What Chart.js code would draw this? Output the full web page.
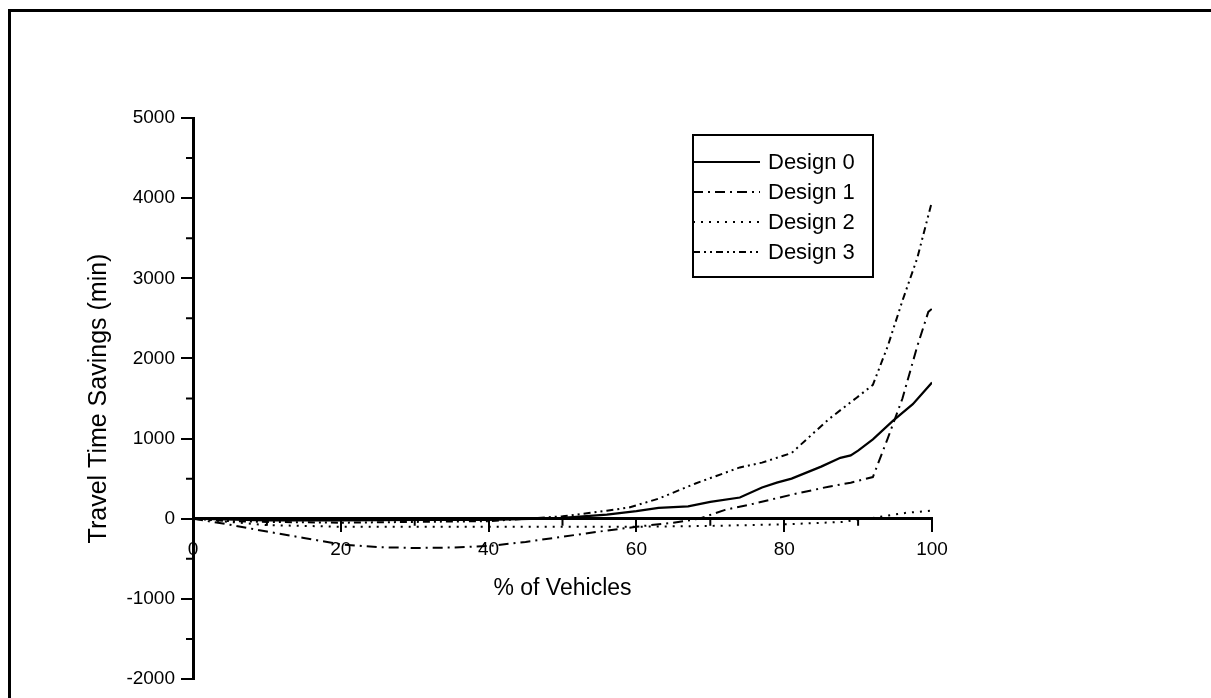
<!DOCTYPE html>
<html>
<head>
<meta charset="utf-8">
<script src="https://cdn.jsdelivr.net/npm/chart.js@4.4.0/dist/chart.umd.min.js"></script>
<style>
  html, body { margin: 0; padding: 0; background: #fff; overflow: hidden; }
  #wrap { position: relative; width: 1211px; height: 698px; }
  #frame { position: absolute; left: 8px; top: 9px; width: 1300px; height: 800px; border: 3px solid #000; box-sizing: border-box; }
  #graphCanvas { position: absolute; left: 0; top: 0; }
</style>
</head>
<body>
<div id="wrap">
  <div id="frame"></div>
  <canvas id="graphCanvas" width="1211" height="698"></canvas>
</div>
<script>
// ================================
// Travel time savings vs % of vehicles
// ================================

const seriesNames = ['Design 0', 'Design 1', 'Design 2', 'Design 3'];

// Design 0 (solid)
const design0X = [0, 10, 20, 30, 40, 47, 50, 56, 60, 63, 67, 70, 74, 77, 79, 81, 85, 87.6, 89, 90, 92, 94.7, 97.4, 100];
const design0Y = [0, -20, -20, -15, -15, 0, 10, 50, 95, 135, 155, 210, 265, 390, 450, 500, 650, 760, 790, 850, 990, 1220, 1430, 1700];

// Design 1 (dash-dot)
const design1X = [0, 5, 10, 15, 20, 25, 30, 35, 40, 45, 50, 55, 60, 65, 68.5, 72, 76, 81, 86, 89, 92, 94, 96, 98, 99.5, 100];
const design1Y = [0, -75, -160, -240, -320, -355, -365, -360, -340, -290, -225, -160, -100, -50, 0, 110, 190, 300, 400, 450, 520, 1000, 1500, 2150, 2580, 2620];

// Design 2 (dotted)
const design2X = [0, 5, 10, 20, 40, 60, 70, 80, 88, 90, 92, 96.6, 100];
const design2Y = [0, -40, -80, -100, -100, -100, -90, -70, -40, -10, 10, 75, 100];

// Design 3 (dash-dot-dot)
const design3X = [0, 5, 10, 20, 30, 40, 45, 50, 56, 59, 63, 68, 74, 77, 81, 86, 89.8, 92, 94, 96, 98, 100];
const design3Y = [0, -30, -40, -50, -40, -30, 0, 30, 100, 140, 250, 440, 640, 700, 820, 1240, 1510, 1670, 2150, 2720, 3250, 3960];

// Axis ticks
const xMajorTicks = [0, 20, 40, 60, 80, 100];
const xMinorTicks = [10, 30, 50, 70, 90];
const yMajorTicks = [-2000, -1000, 0, 1000, 2000, 3000, 4000, 5000];
const yMinorTicks = [-1500, -500, 500, 1500, 2500, 3500, 4500];

const FONT = "'Liberation Sans', Arial, Helvetica, sans-serif";

function toPoints(xs, ys) {
  return xs.map((x, i) => ({ x, y: ys[i] }));
}

const lineStyles = [
  { dash: [], width: 2.2 },
  { dash: [10, 5, 2, 5], width: 2 },
  { dash: [2, 6], width: 2 },
  { dash: [7, 4, 2, 4, 2, 4], width: 2 }
];

const allX = [design0X, design1X, design2X, design3X];
const allY = [design0Y, design1Y, design2Y, design3Y];

const datasets = seriesNames.map((name, i) => ({
  label: name,
  data: toPoints(allX[i], allY[i]),
  borderColor: '#000',
  borderWidth: lineStyles[i].width,
  borderDash: lineStyles[i].dash,
  pointRadius: 0,
  fill: false,
  tension: 0
}));

// Minor ticks (drawn against the library scales)
const minorTicks = {
  id: 'minorTicks',
  afterDraw(chart) {
    const { ctx, scales: { x, y } } = chart;
    const y0 = y.getPixelForValue(0);
    const xAxis = y.right;
    ctx.save();
    ctx.strokeStyle = '#000';
    ctx.lineWidth = 2;
    ctx.setLineDash([]);
    ctx.beginPath();
    xMinorTicks.forEach(v => {
      const px = x.getPixelForValue(v);
      ctx.moveTo(px, y0);
      ctx.lineTo(px, y0 + 7);
    });
    yMinorTicks.forEach(v => {
      const py = y.getPixelForValue(v);
      ctx.moveTo(xAxis, py);
      ctx.lineTo(xAxis - 7, py);
    });
    ctx.stroke();
    ctx.restore();
  }
};

// Boxed legend in the upper right of the plot
const boxLegend = {
  id: 'boxLegend',
  afterDraw(chart) {
    const { ctx, chartArea } = chart;
    const left = chartArea.left + 500;
    const top = chartArea.top + 17;
    const w = 180, h = 142, rowH = 30;
    ctx.save();
    ctx.strokeStyle = '#000';
    ctx.lineWidth = 2;
    ctx.setLineDash([]);
    ctx.fillStyle = '#fff';
    ctx.fillRect(left, top, w, h);
    ctx.strokeRect(left, top, w, h);
    ctx.font = '22px ' + FONT;
    ctx.textBaseline = 'middle';
    ctx.textAlign = 'left';
    chart.data.datasets.forEach((ds, i) => {
      const cy = top + 27 + i * rowH;
      ctx.beginPath();
      ctx.setLineDash(ds.borderDash);
      ctx.lineWidth = ds.borderWidth;
      ctx.moveTo(left, cy);
      ctx.lineTo(left + 67, cy);
      ctx.stroke();
      ctx.fillStyle = '#000';
      ctx.fillText(ds.label, left + 75, cy + 1);
    });
    ctx.restore();
  }
};

const canvas = document.getElementById('graphCanvas');
const chart = new Chart(canvas.getContext('2d'), {
  type: 'line',
  data: { datasets },
  options: {
    responsive: false,
    animation: false,
    layout: { padding: { left: 80, right: 279, top: 118, bottom: 19 } },
    plugins: { legend: { display: false }, tooltip: { enabled: false } },
    scales: {
      x: {
        type: 'linear',
        min: 0,
        max: 100,
        position: { y: 0 },
        afterBuildTicks: s => { s.ticks = xMajorTicks.map(v => ({ value: v })); },
        ticks: {
          color: '#000',
          font: { family: FONT, size: 19 },
          padding: 8,
          autoSkip: false,
          maxRotation: 0,
          callback: v => String(v)
        },
        grid: { drawOnChartArea: false, tickLength: 12, color: '#000', lineWidth: 2 },
        border: { color: '#000', width: 3 },
        title: {
          display: true,
          text: '% of Vehicles',
          color: '#000',
          font: { family: FONT, size: 23 },
          padding: { top: 4, bottom: 4 }
        },
        afterFit: s => { s.height = 88; }
      },
      y: {
        type: 'linear',
        min: -2000,
        max: 5000,
        position: 'left',
        afterBuildTicks: s => { s.ticks = yMajorTicks.map(v => ({ value: v })); },
        ticks: {
          color: '#000',
          font: { family: FONT, size: 19 },
          padding: 6,
          autoSkip: false,
          callback: v => String(v)
        },
        grid: { drawOnChartArea: false, tickLength: 12, color: '#000', lineWidth: 2 },
        border: { color: '#000', width: 3 },
        title: {
          display: true,
          text: 'Travel Time Savings (min)',
          color: '#000',
          font: { family: FONT, size: 25 },
          padding: { top: 4, bottom: 4 }
        },
        afterFit: s => { s.width = 113; }
      }
    }
  },
  plugins: [minorTicks, boxLegend]
});
</script>
</body>
</html>
